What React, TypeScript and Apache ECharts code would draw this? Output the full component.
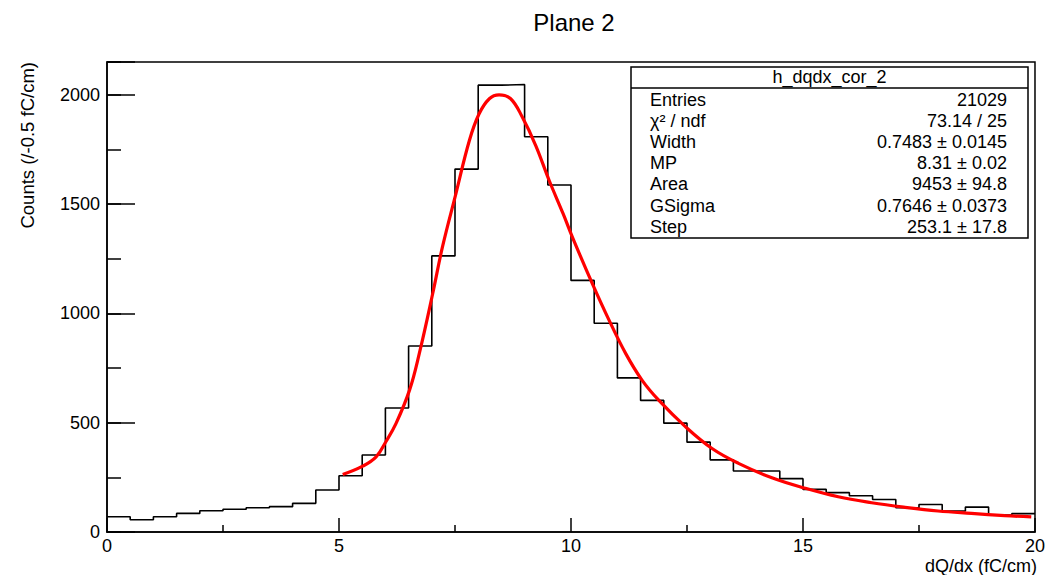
import React, { useEffect, useRef } from "react";
import * as echarts from "echarts";

// Histogram: 40 bins of 0.5 fC/cm from 0 to 20
const binStart = 0;
const binWidth = 0.5;
const counts = [
  70, 56, 70, 85, 97, 104, 111, 116, 131, 192,
  257, 352, 567, 851, 1263, 1660, 2044, 2047, 1808, 1587,
  1151, 955, 705, 602, 498, 411, 330, 279, 279, 244,
  195, 180, 166, 149, 111, 126, 96, 114, 78, 84,
];

// Fit curve
const fitX = [
  5.08, 5.51, 5.8, 6.01, 6.23, 6.52, 6.73, 7.02, 7.23, 7.52, 7.81, 8.02, 8.24, 8.45,
  8.7, 8.95, 9.24, 9.53, 9.83, 10.03, 10.46, 10.82, 11.18, 11.53, 11.89,
  12.47, 13.04, 13.61, 14.33, 15.05, 15.76, 16.48, 17.2, 17.91, 18.63, 19.35, 19.92,
];
const fitY = [
  263, 301, 344, 413, 497, 649, 816, 1091, 1304, 1548, 1791, 1913, 1982, 2000,
  1982, 1898, 1768, 1608, 1456, 1349, 1136, 969, 816, 695, 603,
  481, 382, 314, 248, 200, 161, 134, 113, 96, 85, 75, 69,
];

const titleText = "Plane 2";
const xTitle = "dQ/dx (fC/cm)";
const yTitle = "Counts (/-0.5 fC/cm)";
const statsTitle = "h_dqdx_cor_2";
const statsLabels = ["Entries", "\u03c7\u00b2 / ndf", "Width", "MP", "Area", "GSigma", "Step"];
const statsValues = [
  "21029",
  "73.14 / 25",
  "0.7483 \u00b1 0.0145",
  "8.31 \u00b1 0.02",
  "9453 \u00b1 94.8",
  "0.7646 \u00b1 0.0373",
  "253.1 \u00b1 17.8",
];

const FONT = "'Liberation Sans', Arial, Helvetica, sans-serif";

export default function App() {
  const ref = useRef<HTMLDivElement>(null);

  useEffect(() => {
    document.body.style.margin = "0";
    const chart = echarts.init(ref.current!, null, { renderer: "svg" });

    const histData: number[][] = counts.map((c, i) => [binStart + i * binWidth, c]);
    histData.push([binStart + counts.length * binWidth, counts[counts.length - 1]]);
    const fitData = fitX.map((x, i) => [x, fitY[i]]);

    const gridLeft = 107;
    const gridTop = 62;
    const gridW = 930;
    const gridH = 470;

    const statsX = 631;
    const statsY = 67;
    const statsW = 397;
    const statsH = 171;
    const rowY0 = 100;
    const rowStep = 21.1;

    const graphics: any[] = [
      {
        type: "text",
        x: 574,
        y: 22,
        style: { text: titleText, font: `24px ${FONT}`, fill: "#000", textAlign: "center", textVerticalAlign: "middle" },
      },
      {
        type: "text",
        x: 1037,
        y: 566,
        style: { text: xTitle, font: `18px ${FONT}`, fill: "#000", textAlign: "right", textVerticalAlign: "middle" },
      },
      {
        type: "text",
        x: 27,
        y: 62,
        rotation: Math.PI / 2,
        style: { text: yTitle, font: `18.5px ${FONT}`, fill: "#000", textAlign: "right", textVerticalAlign: "middle" },
      },
      {
        type: "rect",
        shape: { x: statsX, y: statsY, width: statsW, height: statsH },
        style: { fill: "#fff", stroke: "#000", lineWidth: 1.5 },
        z: 10,
      },
      {
        type: "line",
        shape: { x1: statsX, y1: 88, x2: statsX + statsW, y2: 88 },
        style: { stroke: "#000", lineWidth: 1.5 },
        z: 11,
      },
      {
        type: "text",
        x: statsX + statsW / 2,
        y: 77,
        z: 11,
        style: { text: statsTitle, font: `18px ${FONT}`, fill: "#000", textAlign: "center", textVerticalAlign: "middle" },
      },
    ];
    statsLabels.forEach((lab, i) => {
      graphics.push({
        type: "text",
        x: 650,
        y: rowY0 + i * rowStep,
        z: 11,
        style: { text: lab, font: `18px ${FONT}`, fill: "#000", textAlign: "left", textVerticalAlign: "middle" },
      });
      graphics.push({
        type: "text",
        x: 1007,
        y: rowY0 + i * rowStep,
        z: 11,
        style: { text: statsValues[i], font: `18px ${FONT}`, fill: "#000", textAlign: "right", textVerticalAlign: "middle" },
      });
    });

    const axisLineStyle = { color: "#000", width: 1.5 };

    chart.setOption({
      animation: false,
      backgroundColor: "#fff",
      grid: {
        left: gridLeft,
        top: gridTop,
        width: gridW,
        height: gridH,
        show: true,
        borderColor: "#000",
        borderWidth: 1.5,
        backgroundColor: "transparent",
        containLabel: false,
      },
      xAxis: {
        type: "value",
        min: 0,
        max: 20,
        interval: 5,
        axisLine: { show: true, lineStyle: axisLineStyle },
        axisTick: { show: true, inside: true, length: 14, lineStyle: axisLineStyle },
        minorTick: { show: true, splitNumber: 2, length: 7, lineStyle: axisLineStyle },
        splitLine: { show: false },
        minorSplitLine: { show: false },
        axisLabel: { color: "#000", fontSize: 18, fontFamily: FONT, margin: 5 },
      },
      yAxis: [
        {
          type: "value",
          min: 0,
          max: 2150,
          interval: 500,
          axisLine: { show: true, lineStyle: axisLineStyle },
          axisTick: { show: true, inside: true, length: 28, lineStyle: axisLineStyle },
          splitLine: { show: false },
          axisLabel: {
            color: "#000",
            fontSize: 18,
            fontFamily: FONT,
            margin: 7,
            formatter: (v: number) => (v % 500 === 0 ? String(v) : ""),
          },
        },
        {
          type: "value",
          min: 0,
          max: 2150,
          interval: 250,
          position: "left",
          axisLine: { show: false },
          axisTick: { show: true, inside: true, length: 14, lineStyle: axisLineStyle },
          splitLine: { show: false },
          axisLabel: { show: false },
        },
      ],
      series: [
        {
          type: "line",
          data: histData,
          step: "end",
          symbol: "none",
          lineStyle: { color: "#000", width: 1.6 },
          z: 2,
        },
        {
          type: "line",
          data: fitData,
          smooth: 0.4,
          symbol: "none",
          lineStyle: { color: "#ff0000", width: 3.2 },
          z: 3,
        },
      ],
      graphic: graphics,
    });

    return () => {
      chart.dispose();
    };
  }, []);

  return <div ref={ref} style={{ position: "fixed", left: 0, top: 0, width: 1048, height: 575 }} />;
}
